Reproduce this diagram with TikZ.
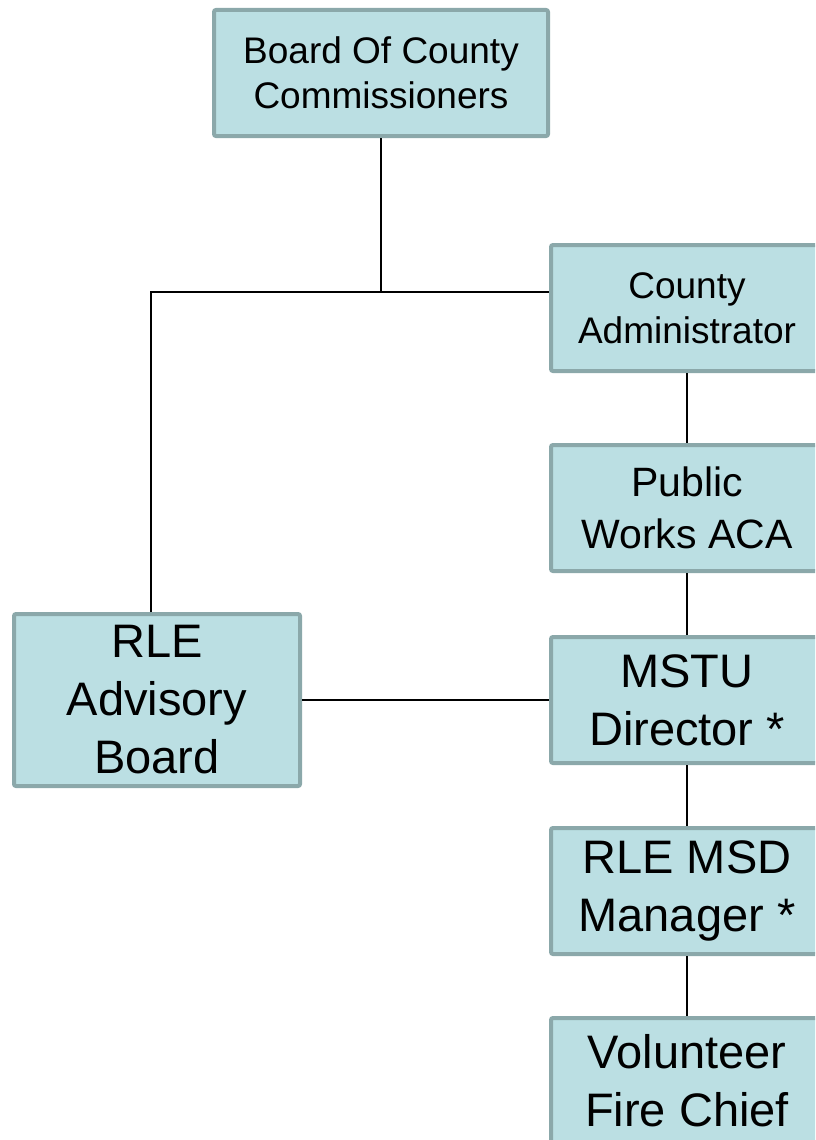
\documentclass[tikz,border=0pt]{standalone}
\usepackage{fontspec}
\setmainfont{Liberation Sans}
\definecolor{boxfill}{HTML}{BBDFE3}
\definecolor{boxline}{HTML}{8BA8AA}
\tikzset{
  unit/.style={draw=boxline, fill=boxfill, line width=4pt, rounded corners=2pt,
    align=center, inner sep=0pt, minimum width=272pt, minimum height=126pt},
  smalltext/.style={font=\fontsize{37}{45}\selectfont},
  midtext/.style={font=\fontsize{41}{52}\selectfont},
  bigtext/.style={font=\fontsize{47}{58}\selectfont},
  link/.style={line width=1.5pt, black}
}

\begin{document}
\begin{tikzpicture}[x=1pt, y=-1pt]
      \useasboundingbox (0, 0) rectangle (815, 1140);
      \clip (0, 0) rectangle (815, 1140);
      \node [unit, smalltext, minimum width=334pt] (board) at (381, 73) {Board Of County\\Commissioners};
      \node [unit, smalltext] (admin) at (687, 308) {County\\Administrator};
      \node [unit, midtext] (works) at (687, 508) {Public\\Works ACA};
      \node [unit, bigtext] (mstu) at (687, 700) {MSTU\\Director *};
      \node [unit, bigtext] (msd) at (687, 891) {RLE MSD\\Manager *};
      \node [unit, bigtext] (chief) at (687, 1081) {Volunteer\\Fire Chief};
      \node [unit, bigtext, minimum width=286pt, minimum height=172pt] (advisory) at (157, 700) {RLE\\Advisory\\Board};
      %% branch point under the board
      \coordinate (split) at (381, 292);
      %% links
      \draw [link] (board.south) -- (split);
      \draw [link] ([xshift=-6pt]advisory.north) |- (admin.west |- split);
      \draw [link] (admin) -- (works);
      \draw [link] (works) -- (mstu);
      \draw [link] (mstu) -- (msd);
      \draw [link] (msd) -- (chief);
      \draw [link] (advisory) -- (mstu);
    \end{tikzpicture}
\end{document}
